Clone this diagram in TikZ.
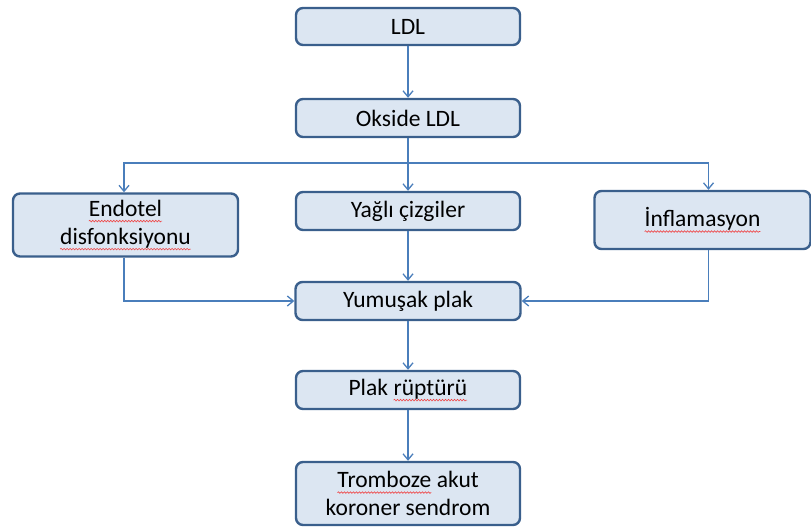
\documentclass[tikz,border=0pt]{standalone}
\usepackage{fontspec}
\setmainfont{Carlito}
\usetikzlibrary{arrows.meta,decorations.pathmorphing}
\definecolor{boxfill}{HTML}{DCE6F2}
\definecolor{boxdraw}{HTML}{3A5F8C}
\definecolor{linec}{HTML}{4A7EBB}
\definecolor{spellred}{HTML}{F04040}
\newcommand\spellwave[1]{\tikz[baseline=(sw.base)]{\node[draw=none, fill=none, inner sep=0pt, outer sep=0pt,
    minimum width=0pt, minimum height=0pt, rounded corners=0pt, line width=0.6pt] (sw) {#1};
  \draw[spellred, line width=0.6pt, rounded corners=0pt, decorate, decoration={snake,amplitude=0.8pt,segment length=3pt}]
    ([yshift=-5pt]sw.base west) -- ([yshift=-5pt]sw.base east);}}
\tikzset{
  flowbox/.style={draw=boxdraw, fill=boxfill, line width=2.4pt, rounded corners=7pt,
    align=center, inner sep=2pt, font=\fontsize{23.5}{28}\selectfont, text=black},
  conn/.style={draw=linec, line width=1.3pt, -{Straight Barb[length=6pt,width=10pt]}},
  plain/.style={draw=linec, line width=1.3pt}
}
\begin{document}
\begin{tikzpicture}[x=1pt,y=-1pt]
\useasboundingbox (0,0) rectangle (811,527);
\node[flowbox, minimum width=224, minimum height=37] (ldl) at (408,26.5) {LDL};
\node[flowbox, minimum width=224, minimum height=38] (oks) at (408,118) {Okside LDL};
\node[flowbox, minimum width=224, minimum height=38] (yag) at (408,211) {Yağlı çizgiler};
\node[flowbox, minimum width=225, minimum height=63] (end) at (125.5,225) {\spellwave{Endotel}\\\spellwave{disfonksiyonu}};
\node[flowbox, minimum width=216, minimum height=58] (inf) at (702.5,220) {\spellwave{İnflamasyon}};
\node[flowbox, minimum width=225, minimum height=38] (yum) at (408,301) {Yumuşak plak};
\node[flowbox, minimum width=224, minimum height=38] (rup) at (408,390) {Plak \spellwave{rüptürü}};
\node[flowbox, minimum width=224, minimum height=63] (tro) at (408,493.5) {\spellwave{Tromboze} akut\\koroner sendrom};
\coordinate (split) at (408,163);
\coordinate (inftop) at ([xshift=6]inf.north);
\coordinate (infbot) at ([xshift=6]inf.south);
\coordinate (endtop) at ([xshift=-1.5]end.north);
\coordinate (endbot) at ([xshift=-1.5]end.south);
\draw[conn] (ldl) -- (oks);
\draw[plain] (oks.south) -- (split);
\draw[conn] (split) -- (yag.north);
\draw[conn] (split) -| (endtop);
\draw[conn] (split) -| (inftop);
\draw[conn] (endbot) |- (yum.west);
\draw[conn] (infbot) |- (yum.east);
\draw[conn] (yag) -- (yum);
\draw[conn] (yum) -- (rup);
\draw[conn] (rup) -- (tro);
\end{tikzpicture}
\end{document}
